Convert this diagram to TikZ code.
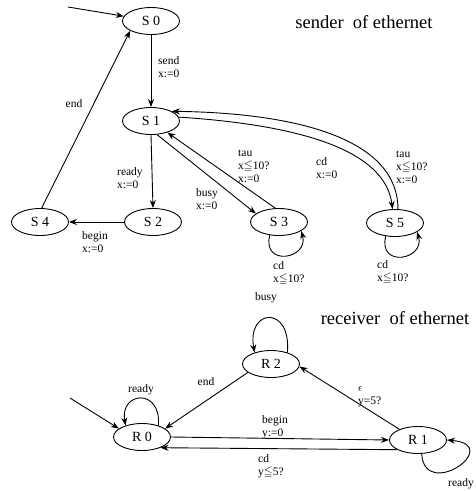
\documentclass[tikz,border=0pt]{standalone}
\usepackage{amssymb}
\usepackage{fontspec}
\setmainfont{Liberation Serif}
\usetikzlibrary{shapes.geometric,arrows.meta}

\begin{document}
\begin{tikzpicture}[x=1pt,y=-1pt,
  state/.style={draw, ellipse, line width=0.9pt, minimum width=57pt,
    minimum height=27pt, inner sep=0pt, font=\fontsize{14}{16}\selectfont},
  lbl/.style={align=left, anchor=north west, inner sep=0pt,
    font=\fontsize{11.5}{13}\selectfont},
  clbl/.style={inner sep=0pt, font=\fontsize{11.5}{13}\selectfont},
  heading/.style={inner sep=0pt, font=\fontsize{18.5}{20}\selectfont},
  edge/.style={line width=0.9pt, -{Stealth[length=8pt,width=6pt]}}]

\useasboundingbox (0,0) rectangle (475,491);

% ---------------- sender ----------------
\node[heading] (sendtitle) at (364,22) {sender\ \ of ethernet};

\node[state] (S0) at (151,21)  {S~0};
\node[state] (S1) at (151,121) {S~1};
\node[state] (S2) at (153,222) {S~2};
\node[state] (S4) at (40,222)  {S~4};
\node[state] (S3) at (279,222) {S~3};
\node[state] (S5) at (395,223) {S~5};

\coordinate (s0in) at (68,7);
\draw[edge] (s0in) -- (S0.170);

\draw[edge] (S0.south) -- (S1.north);
\node[lbl] (lsend) at (158,56) {send\\x:=0};

\draw[edge] (S4.83) -- (S0.205);
\node[clbl] (lend) at (74,104) {end};

\draw[edge] (S1.south) -- (S2.north);
\node[lbl] (lready) at (117,167) {ready\\x:=0};

\draw[edge] (S2.west) -- (S4.east);
\node[lbl] (lbegin) at (82,231) {begin\\x:=0};

\draw[edge] (S1.-66) -- (S3.160);
\node[lbl] (lbusy) at (196,188) {busy\\x:=0};

\draw[edge] (S3.105) -- (S1.-35);
\node[lbl] (ltau3) at (238,150) {tau\\x$\leqq$10?\\x:=0};

\draw[edge] (S1.8) .. controls (300,125) and (385,150) .. (S5.100);
\node[lbl] (lcd5) at (316,157) {cd\\x:=0};

\draw[edge] (S5.78) .. controls (398,140) and (300,113) .. (S1.25);
\node[lbl] (ltau5) at (396,151) {tau\\x$\leqq$10?\\x:=0};

\draw[edge] (S3.-125) .. controls +(-8,32) and +(8,28) .. (S3.-22);
\node[lbl] (lcd3l) at (273,261) {cd\\x$\leqq$10?};

\draw[edge] (S5.-125) .. controls +(-8,32) and +(8,28) .. (S5.-22);
\node[lbl] (lcd5l) at (377,260) {cd\\x$\leqq$10?};

% ---------------- receiver ----------------
\node[heading] (recvtitle) at (395,318) {receiver\ \ of ethernet};

\node[state] (R2) at (271,364) {R~2};
\node[state] (R0) at (142,437) {R~0};
\node[state] (R1) at (418,440) {R~1};

\coordinate (r0in) at (70,398);
\draw[edge] (r0in) -- (R0.160);

\draw[edge] (R2.35) .. controls +(4,-48) and +(-8,-44) .. (R2.145);
\node[clbl] (lbusyr) at (266,298) {busy};

\draw[edge] (R0.35) .. controls +(3,-38) and +(-6,-34) .. (R0.145);
\node[clbl] (lreadyr0) at (141,390) {ready};

\draw[edge] (R2.200) -- (R0.20);
\node[clbl] (lendr) at (206,382) {end};

\draw[edge] (R1.150) -- (R2.-5);
\node[lbl] (leps) at (358,386) {$\epsilon$\\y=5?};

\draw[edge] (R0.east) -- (R1.west);
\node[lbl] (lbeginr) at (262,415) {begin\\y:=0};

\draw[edge] (R1.-155) -- (R0.-30);
\node[lbl] (lcdr) at (258,454) {cd\\y$\leqq$5?};

\draw[edge] (R1.-75) .. controls +(3,48) and +(58,5) .. (R1.east);
\node[clbl] (lreadyr1) at (461,484) {ready};

\end{tikzpicture}
\end{document}
